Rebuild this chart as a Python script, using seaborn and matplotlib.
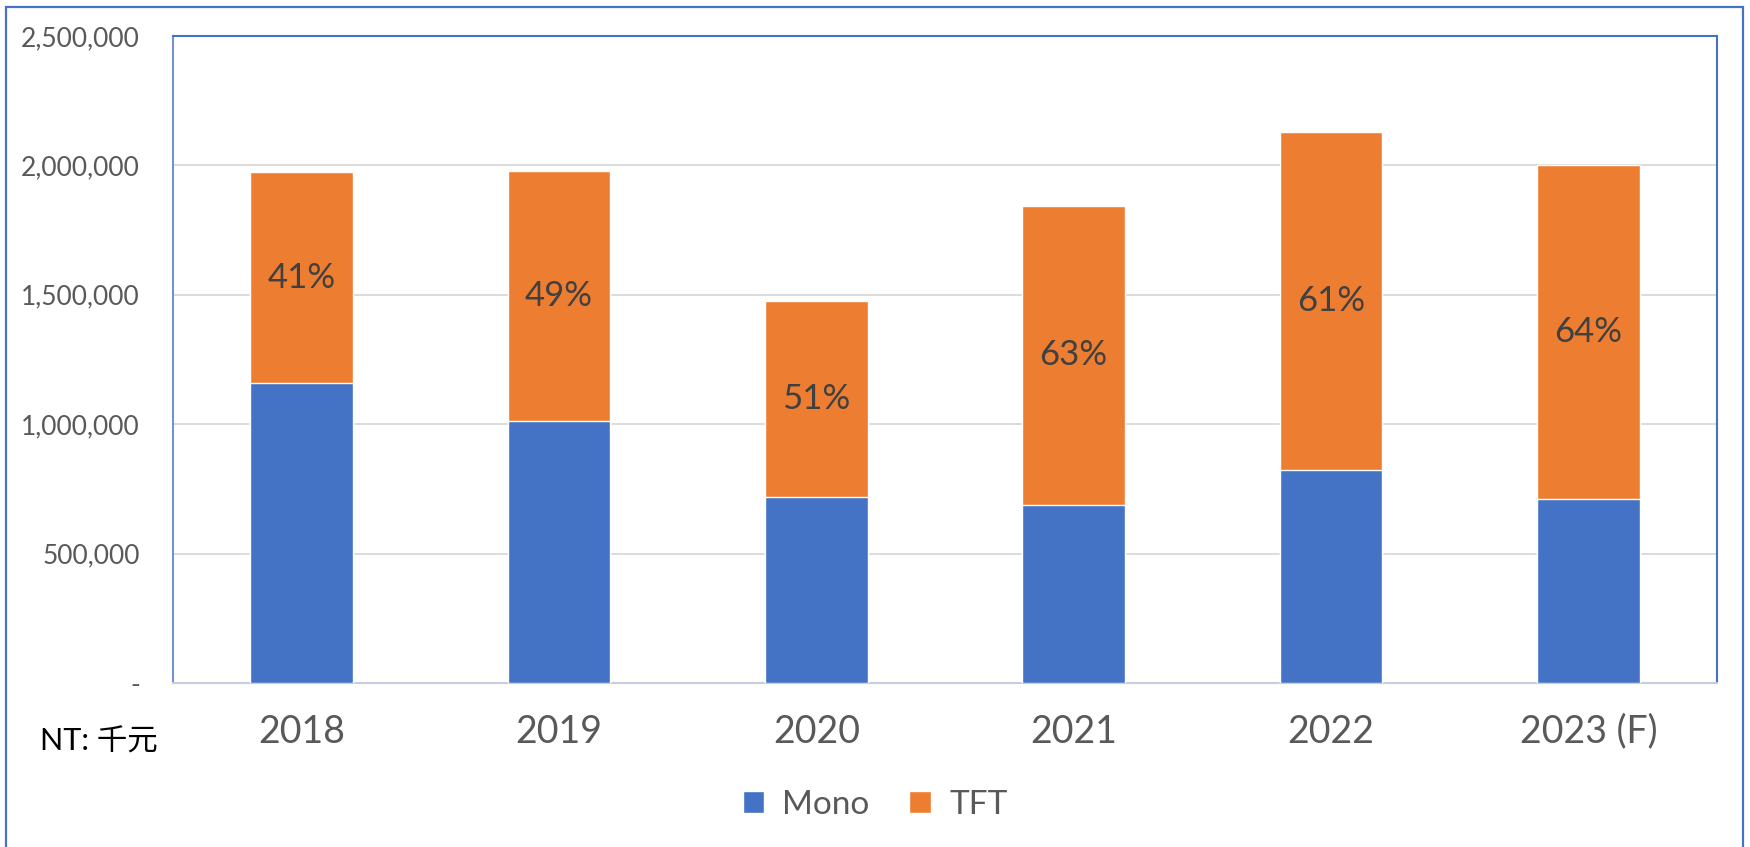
import matplotlib
matplotlib.use("Agg")
import matplotlib.pyplot as plt
from matplotlib.patches import Patch, Rectangle
from matplotlib.ticker import FuncFormatter, MultipleLocator
import seaborn as sns
import pandas as pd

# data (NT$ thousands)
years = ['2018', '2019', '2020', '2021', '2022', '2023 (F)']
mono = [1160000, 1012000, 718000, 688000, 823000, 712000]
tft = [813000, 966000, 759000, 1156000, 1306000, 1288000]
tft_share = ['41%', '49%', '51%', '63%', '61%', '64%']

MONO_COLOR = '#4472C4'
TFT_COLOR = '#ED7D31'
TEXT_COLOR = '#595959'

sns.set_theme(style='white')
plt.rcParams['font.family'] = ['Lato', 'Noto Sans CJK TC', 'DejaVu Sans']

df = pd.DataFrame({'year': years, 'mono': mono, 'tft': tft})
df['total'] = df['mono'] + df['tft']

fig = plt.figure(figsize=(17.5, 8.47), dpi=100)
ax = fig.add_axes([173 / 1750, 1 - 683 / 847, (1717 - 173) / 1750, (683 - 36) / 847])

# stacked bars: total in orange, mono drawn over it
sns.barplot(data=df, x='year', y='total', color=TFT_COLOR, width=0.4,
            saturation=1, ax=ax, zorder=3)
sns.barplot(data=df, x='year', y='mono', color=MONO_COLOR, width=0.4,
            saturation=1, ax=ax, zorder=3)

for i, row in df.iterrows():
    ax.text(i, row['mono'] + row['tft'] / 2, tft_share[i], ha='center', va='center',
            fontsize=25, color='#404040', zorder=4)

ax.set_ylim(0, 2500000)
ax.yaxis.set_major_locator(MultipleLocator(500000))
ax.yaxis.set_major_formatter(FuncFormatter(lambda v, p: '-' if v == 0 else f'{int(v):,}'))
ax.grid(axis='y', color='#D9D9D9', linewidth=1.3, zorder=0)
ax.set_axisbelow(True)
ax.set_xlabel('')
ax.set_ylabel('')
ax.tick_params(axis='y', length=0, pad=24, labelsize=19, labelcolor=TEXT_COLOR)
ax.tick_params(axis='x', length=0, pad=22, labelsize=27, labelcolor=TEXT_COLOR)

ax.spines['left'].set_color('#6F94D4')
ax.spines['top'].set_color(MONO_COLOR)
ax.spines['right'].set_color(MONO_COLOR)
ax.spines['bottom'].set_color('#C5CEDF')
for s in ax.spines.values():
    s.set_linewidth(1.5)

handles = [Patch(facecolor=MONO_COLOR, label='Mono'), Patch(facecolor=TFT_COLOR, label='TFT')]
leg = fig.legend(handles=handles, loc='center', bbox_to_anchor=(0.5, 1 - 805 / 847), ncol=2,
                 frameon=False, fontsize=24, handlelength=0.64, handleheight=0.64,
                 handletextpad=0.55, columnspacing=1.2)
for t in leg.get_texts():
    t.set_color(TEXT_COLOR)

fig.text(40 / 1750, 1 - 742 / 847, 'NT: 千元', ha='left', va='center', fontsize=22, color='black')

# outer chart frame
fig.patches.append(Rectangle((6 / 1750, -0.1), (1743 - 6) / 1750, 1.1 - 7 / 847,
                             transform=fig.transFigure, fill=False,
                             edgecolor=MONO_COLOR, linewidth=1.6))

fig.savefig('out.png', dpi=100)
plt.close(fig)
